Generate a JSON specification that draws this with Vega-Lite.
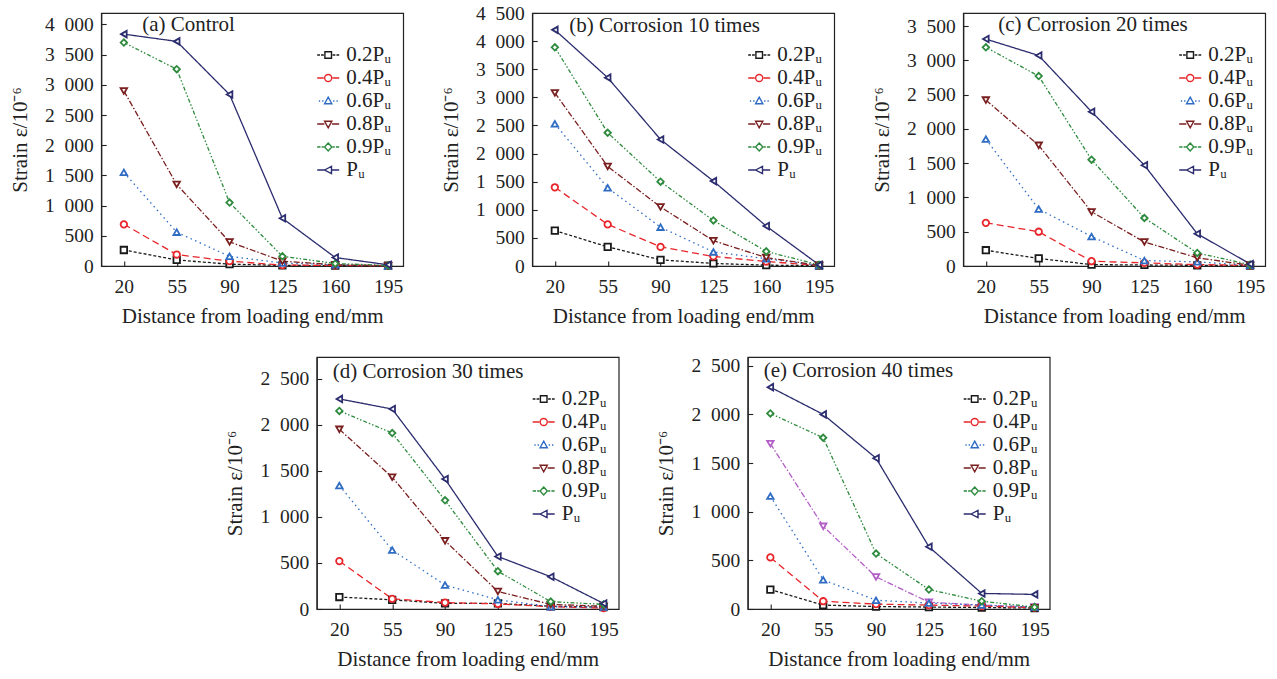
{
  "$schema": "https://vega.github.io/schema/vega-lite/v6.json",
  "background": "white",
  "padding": {"left": 8, "top": 2, "right": 5, "bottom": 5},
  "data": {"values": [
    {"p":"a","s":"0.2Pᵤ","x":20,"y":265},{"p":"a","s":"0.2Pᵤ","x":55,"y":100},{"p":"a","s":"0.2Pᵤ","x":90,"y":30},{"p":"a","s":"0.2Pᵤ","x":125,"y":10},{"p":"a","s":"0.2Pᵤ","x":160,"y":5},{"p":"a","s":"0.2Pᵤ","x":195,"y":5},
    {"p":"a","s":"0.4Pᵤ","x":20,"y":690},{"p":"a","s":"0.4Pᵤ","x":55,"y":190},{"p":"a","s":"0.4Pᵤ","x":90,"y":80},{"p":"a","s":"0.4Pᵤ","x":125,"y":15},{"p":"a","s":"0.4Pᵤ","x":160,"y":10},{"p":"a","s":"0.4Pᵤ","x":195,"y":5},
    {"p":"a","s":"0.6Pᵤ","x":20,"y":1550},{"p":"a","s":"0.6Pᵤ","x":55,"y":560},{"p":"a","s":"0.6Pᵤ","x":90,"y":160},{"p":"a","s":"0.6Pᵤ","x":125,"y":50},{"p":"a","s":"0.6Pᵤ","x":160,"y":20},{"p":"a","s":"0.6Pᵤ","x":195,"y":5},
    {"p":"a","s":"0.8Pᵤ","x":20,"y":2900},{"p":"a","s":"0.8Pᵤ","x":55,"y":1350},{"p":"a","s":"0.8Pᵤ","x":90,"y":400},{"p":"a","s":"0.8Pᵤ","x":125,"y":80},{"p":"a","s":"0.8Pᵤ","x":160,"y":20},{"p":"a","s":"0.8Pᵤ","x":195,"y":5},
    {"p":"a","s":"0.9Pᵤ","x":20,"y":3700},{"p":"a","s":"0.9Pᵤ","x":55,"y":3260},{"p":"a","s":"0.9Pᵤ","x":90,"y":1050},{"p":"a","s":"0.9Pᵤ","x":125,"y":160},{"p":"a","s":"0.9Pᵤ","x":160,"y":40},{"p":"a","s":"0.9Pᵤ","x":195,"y":10},
    {"p":"a","s":"Pᵤ","x":20,"y":3840},{"p":"a","s":"Pᵤ","x":55,"y":3720},{"p":"a","s":"Pᵤ","x":90,"y":2840},{"p":"a","s":"Pᵤ","x":125,"y":790},{"p":"a","s":"Pᵤ","x":160,"y":140},{"p":"a","s":"Pᵤ","x":195,"y":20},

    {"p":"b","s":"0.2Pᵤ","x":20,"y":630},{"p":"b","s":"0.2Pᵤ","x":55,"y":340},{"p":"b","s":"0.2Pᵤ","x":90,"y":110},{"p":"b","s":"0.2Pᵤ","x":125,"y":45},{"p":"b","s":"0.2Pᵤ","x":160,"y":15},{"p":"b","s":"0.2Pᵤ","x":195,"y":5},
    {"p":"b","s":"0.4Pᵤ","x":20,"y":1400},{"p":"b","s":"0.4Pᵤ","x":55,"y":740},{"p":"b","s":"0.4Pᵤ","x":90,"y":340},{"p":"b","s":"0.4Pᵤ","x":125,"y":170},{"p":"b","s":"0.4Pᵤ","x":160,"y":80},{"p":"b","s":"0.4Pᵤ","x":195,"y":10},
    {"p":"b","s":"0.6Pᵤ","x":20,"y":2530},{"p":"b","s":"0.6Pᵤ","x":55,"y":1390},{"p":"b","s":"0.6Pᵤ","x":90,"y":690},{"p":"b","s":"0.6Pᵤ","x":125,"y":250},{"p":"b","s":"0.6Pᵤ","x":160,"y":130},{"p":"b","s":"0.6Pᵤ","x":195,"y":10},
    {"p":"b","s":"0.8Pᵤ","x":20,"y":3080},{"p":"b","s":"0.8Pᵤ","x":55,"y":1770},{"p":"b","s":"0.8Pᵤ","x":90,"y":1050},{"p":"b","s":"0.8Pᵤ","x":125,"y":450},{"p":"b","s":"0.8Pᵤ","x":160,"y":150},{"p":"b","s":"0.8Pᵤ","x":195,"y":10},
    {"p":"b","s":"0.9Pᵤ","x":20,"y":3890},{"p":"b","s":"0.9Pᵤ","x":55,"y":2370},{"p":"b","s":"0.9Pᵤ","x":90,"y":1500},{"p":"b","s":"0.9Pᵤ","x":125,"y":810},{"p":"b","s":"0.9Pᵤ","x":160,"y":260},{"p":"b","s":"0.9Pᵤ","x":195,"y":20},
    {"p":"b","s":"Pᵤ","x":20,"y":4200},{"p":"b","s":"Pᵤ","x":55,"y":3350},{"p":"b","s":"Pᵤ","x":90,"y":2250},{"p":"b","s":"Pᵤ","x":125,"y":1510},{"p":"b","s":"Pᵤ","x":160,"y":710},{"p":"b","s":"Pᵤ","x":195,"y":20},

    {"p":"c","s":"0.2Pᵤ","x":20,"y":230},{"p":"c","s":"0.2Pᵤ","x":55,"y":110},{"p":"c","s":"0.2Pᵤ","x":90,"y":20},{"p":"c","s":"0.2Pᵤ","x":125,"y":15},{"p":"c","s":"0.2Pᵤ","x":160,"y":10},{"p":"c","s":"0.2Pᵤ","x":195,"y":5},
    {"p":"c","s":"0.4Pᵤ","x":20,"y":630},{"p":"c","s":"0.4Pᵤ","x":55,"y":500},{"p":"c","s":"0.4Pᵤ","x":90,"y":70},{"p":"c","s":"0.4Pᵤ","x":125,"y":45},{"p":"c","s":"0.4Pᵤ","x":160,"y":20},{"p":"c","s":"0.4Pᵤ","x":195,"y":10},
    {"p":"c","s":"0.6Pᵤ","x":20,"y":1850},{"p":"c","s":"0.6Pᵤ","x":55,"y":830},{"p":"c","s":"0.6Pᵤ","x":90,"y":430},{"p":"c","s":"0.6Pᵤ","x":125,"y":80},{"p":"c","s":"0.6Pᵤ","x":160,"y":60},{"p":"c","s":"0.6Pᵤ","x":195,"y":10},
    {"p":"c","s":"0.8Pᵤ","x":20,"y":2420},{"p":"c","s":"0.8Pᵤ","x":55,"y":1760},{"p":"c","s":"0.8Pᵤ","x":90,"y":790},{"p":"c","s":"0.8Pᵤ","x":125,"y":350},{"p":"c","s":"0.8Pᵤ","x":160,"y":120},{"p":"c","s":"0.8Pᵤ","x":195,"y":10},
    {"p":"c","s":"0.9Pᵤ","x":20,"y":3190},{"p":"c","s":"0.9Pᵤ","x":55,"y":2770},{"p":"c","s":"0.9Pᵤ","x":90,"y":1550},{"p":"c","s":"0.9Pᵤ","x":125,"y":700},{"p":"c","s":"0.9Pᵤ","x":160,"y":190},{"p":"c","s":"0.9Pᵤ","x":195,"y":20},
    {"p":"c","s":"Pᵤ","x":20,"y":3310},{"p":"c","s":"Pᵤ","x":55,"y":3070},{"p":"c","s":"Pᵤ","x":90,"y":2250},{"p":"c","s":"Pᵤ","x":125,"y":1470},{"p":"c","s":"Pᵤ","x":160,"y":470},{"p":"c","s":"Pᵤ","x":195,"y":30},

    {"p":"d","s":"0.2Pᵤ","x":20,"y":130},{"p":"d","s":"0.2Pᵤ","x":55,"y":100},{"p":"d","s":"0.2Pᵤ","x":90,"y":60},{"p":"d","s":"0.2Pᵤ","x":125,"y":60},{"p":"d","s":"0.2Pᵤ","x":160,"y":30},{"p":"d","s":"0.2Pᵤ","x":195,"y":20},
    {"p":"d","s":"0.4Pᵤ","x":20,"y":520},{"p":"d","s":"0.4Pᵤ","x":55,"y":110},{"p":"d","s":"0.4Pᵤ","x":90,"y":70},{"p":"d","s":"0.4Pᵤ","x":125,"y":55},{"p":"d","s":"0.4Pᵤ","x":160,"y":25},{"p":"d","s":"0.4Pᵤ","x":195,"y":10},
    {"p":"d","s":"0.6Pᵤ","x":20,"y":1340},{"p":"d","s":"0.6Pᵤ","x":55,"y":640},{"p":"d","s":"0.6Pᵤ","x":90,"y":260},{"p":"d","s":"0.6Pᵤ","x":125,"y":100},{"p":"d","s":"0.6Pᵤ","x":160,"y":25},{"p":"d","s":"0.6Pᵤ","x":195,"y":20},
    {"p":"d","s":"0.8Pᵤ","x":20,"y":1950},{"p":"d","s":"0.8Pᵤ","x":55,"y":1430},{"p":"d","s":"0.8Pᵤ","x":90,"y":740},{"p":"d","s":"0.8Pᵤ","x":125,"y":190},{"p":"d","s":"0.8Pᵤ","x":160,"y":50},{"p":"d","s":"0.8Pᵤ","x":195,"y":30},
    {"p":"d","s":"0.9Pᵤ","x":20,"y":2150},{"p":"d","s":"0.9Pᵤ","x":55,"y":1910},{"p":"d","s":"0.9Pᵤ","x":90,"y":1180},{"p":"d","s":"0.9Pᵤ","x":125,"y":410},{"p":"d","s":"0.9Pᵤ","x":160,"y":80},{"p":"d","s":"0.9Pᵤ","x":195,"y":50},
    {"p":"d","s":"Pᵤ","x":20,"y":2280},{"p":"d","s":"Pᵤ","x":55,"y":2170},{"p":"d","s":"Pᵤ","x":90,"y":1410},{"p":"d","s":"Pᵤ","x":125,"y":570},{"p":"d","s":"Pᵤ","x":160,"y":350},{"p":"d","s":"Pᵤ","x":195,"y":60},

    {"p":"e","s":"0.2Pᵤ","x":20,"y":200},{"p":"e","s":"0.2Pᵤ","x":55,"y":40},{"p":"e","s":"0.2Pᵤ","x":90,"y":25},{"p":"e","s":"0.2Pᵤ","x":125,"y":20},{"p":"e","s":"0.2Pᵤ","x":160,"y":15},{"p":"e","s":"0.2Pᵤ","x":195,"y":10},
    {"p":"e","s":"0.4Pᵤ","x":20,"y":530},{"p":"e","s":"0.4Pᵤ","x":55,"y":80},{"p":"e","s":"0.4Pᵤ","x":90,"y":50},{"p":"e","s":"0.4Pᵤ","x":125,"y":40},{"p":"e","s":"0.4Pᵤ","x":160,"y":30},{"p":"e","s":"0.4Pᵤ","x":195,"y":15},
    {"p":"e","s":"0.6Pᵤ","x":20,"y":1160},{"p":"e","s":"0.6Pᵤ","x":55,"y":300},{"p":"e","s":"0.6Pᵤ","x":90,"y":90},{"p":"e","s":"0.6Pᵤ","x":125,"y":60},{"p":"e","s":"0.6Pᵤ","x":160,"y":40},{"p":"e","s":"0.6Pᵤ","x":195,"y":20},
    {"p":"e","s":"0.8Pᵤ","x":20,"y":1700},{"p":"e","s":"0.8Pᵤ","x":55,"y":850},{"p":"e","s":"0.8Pᵤ","x":90,"y":330},{"p":"e","s":"0.8Pᵤ","x":125,"y":70},{"p":"e","s":"0.8Pᵤ","x":160,"y":40},{"p":"e","s":"0.8Pᵤ","x":195,"y":20},
    {"p":"e","s":"0.9Pᵤ","x":20,"y":2010},{"p":"e","s":"0.9Pᵤ","x":55,"y":1760},{"p":"e","s":"0.9Pᵤ","x":90,"y":570},{"p":"e","s":"0.9Pᵤ","x":125,"y":200},{"p":"e","s":"0.9Pᵤ","x":160,"y":80},{"p":"e","s":"0.9Pᵤ","x":195,"y":20},
    {"p":"e","s":"Pᵤ","x":20,"y":2280},{"p":"e","s":"Pᵤ","x":55,"y":2000},{"p":"e","s":"Pᵤ","x":90,"y":1550},{"p":"e","s":"Pᵤ","x":125,"y":640},{"p":"e","s":"Pᵤ","x":160,"y":160},{"p":"e","s":"Pᵤ","x":195,"y":150}
  ]},
  "center": true,
  "spacing": 27,
  "resolve": {"scale": {"color": "independent", "shape": "independent", "strokeDash": "independent"}, "legend": {"color": "independent"}},
  "vconcat": [
    {
      "hconcat": [
        {
          "width": 302, "height": 253,
          "title": {"text": "(a) Control", "dx": 41, "offset": -22},
          "transform": [{"filter": "datum.p === 'a'"}],
          "encoding": {
            "x": {"field": "x", "type": "quantitative", "scale": {"domain": [5, 205], "nice": false, "zero": false}, "axis": {"values": [20, 55, 90, 125, 160, 195], "title": "Distance from loading end/mm"}},
            "y": {"field": "y", "type": "quantitative", "scale": {"domain": [0, 4190], "nice": false}, "axis": {"values": [0, 500, 1000, 1500, 2000, 2500, 3000, 3500, 4000], "title": "Strain ε/10⁻⁶"}}
          },
          "layer": [
            {"mark": {"type": "line", "strokeWidth": 1.3},
             "encoding": {
               "color": {"field": "s", "type": "nominal", "scale": {"domain": ["0.2Pᵤ","0.4Pᵤ","0.6Pᵤ","0.8Pᵤ","0.9Pᵤ","Pᵤ"], "range": ["#1a1a1a","#e8252a","#2f6cc4","#7a1f1f","#2e8b3e","#2b2d6e"]},
                 "legend": {"title": null, "encode": {"symbols": {"update": {"fill": {"value": "white"}, "shape": {"signal": "datum.value === '0.2Pᵤ' ? 'M-1,0h0.25M-0.65,0h0.25M0.4,0h0.25M0.75,0h0.25M-0.3,-0.3h0.6v0.6h-0.6z' : datum.value === '0.4Pᵤ' ? 'M-1,0h0.6M0.4,0h0.6M-0.32,0a0.32,0.32 0 1,0 0.64,0a0.32,0.32 0 1,0 -0.64,0' : datum.value === '0.6Pᵤ' ? 'M-0.85,0h0.12M-0.55,0h0.12M0.45,0h0.12M0.75,0h0.12M0,-0.35L0.33,0.25L-0.33,0.25z' : datum.value === '0.8Pᵤ' ? 'M-1,0h0.65M0.35,0h0.65M-0.33,-0.25L0.33,-0.25L0,0.35z' : datum.value === '0.9Pᵤ' ? 'M-1,0h0.3M-0.6,0h0.2M0.4,0h0.2M0.7,0h0.3M0,-0.36L0.33,0L0,0.36L-0.33,0z' : 'M-1,0h0.7M0.3,0h0.7M-0.33,0L0.3,-0.33L0.3,0.33z'"}}}}}},
               "strokeDash": {"field": "s", "type": "nominal", "scale": {"domain": ["0.4Pᵤ","0.2Pᵤ","0.6Pᵤ","0.8Pᵤ","0.9Pᵤ","Pᵤ"], "range": [[7,4],[3,2],[1.5,3.5],[6,2,1.5,2],[4,2,1.5,2,1.5,2],[1,0]]}, "legend": null}
             }},
            {"mark": {"type": "point", "filled": false, "fill": "white", "size": 42, "strokeWidth": 1.8, "opacity": 1},
             "encoding": {
               "color": {"field": "s", "type": "nominal", "legend": null},
               "shape": {"field": "s", "type": "nominal", "scale": {"domain": ["Pᵤ","0.9Pᵤ","0.8Pᵤ","0.6Pᵤ","0.4Pᵤ","0.2Pᵤ"], "range": ["triangle-left","diamond","triangle-down","triangle-up","circle","square"]}, "legend": null}
             }}
          ]
        },
        {
          "width": 302, "height": 253,
          "title": {"text": "(b) Corrosion 10 times", "dx": 37, "offset": -33},
          "transform": [{"filter": "datum.p === 'b'"}],
          "encoding": {
            "x": {"field": "x", "type": "quantitative", "scale": {"domain": [5, 205], "nice": false, "zero": false}, "axis": {"values": [20, 55, 90, 125, 160, 195], "title": "Distance from loading end/mm"}},
            "y": {"field": "y", "type": "quantitative", "scale": {"domain": [0, 4500], "nice": false}, "axis": {"values": [0, 500, 1000, 1500, 2000, 2500, 3000, 3500, 4000, 4500], "title": "Strain ε/10⁻⁶"}}
          },
          "layer": [
            {"mark": {"type": "line", "strokeWidth": 1.3},
             "encoding": {
               "color": {"field": "s", "type": "nominal", "scale": {"domain": ["0.2Pᵤ","0.4Pᵤ","0.6Pᵤ","0.8Pᵤ","0.9Pᵤ","Pᵤ"], "range": ["#1a1a1a","#e8252a","#2f6cc4","#7a1f1f","#2e8b3e","#2b2d6e"]},
                 "legend": {"title": null, "encode": {"symbols": {"update": {"fill": {"value": "white"}, "shape": {"signal": "datum.value === '0.2Pᵤ' ? 'M-1,0h0.25M-0.65,0h0.25M0.4,0h0.25M0.75,0h0.25M-0.3,-0.3h0.6v0.6h-0.6z' : datum.value === '0.4Pᵤ' ? 'M-1,0h0.6M0.4,0h0.6M-0.32,0a0.32,0.32 0 1,0 0.64,0a0.32,0.32 0 1,0 -0.64,0' : datum.value === '0.6Pᵤ' ? 'M-0.85,0h0.12M-0.55,0h0.12M0.45,0h0.12M0.75,0h0.12M0,-0.35L0.33,0.25L-0.33,0.25z' : datum.value === '0.8Pᵤ' ? 'M-1,0h0.65M0.35,0h0.65M-0.33,-0.25L0.33,-0.25L0,0.35z' : datum.value === '0.9Pᵤ' ? 'M-1,0h0.3M-0.6,0h0.2M0.4,0h0.2M0.7,0h0.3M0,-0.36L0.33,0L0,0.36L-0.33,0z' : 'M-1,0h0.7M0.3,0h0.7M-0.33,0L0.3,-0.33L0.3,0.33z'"}}}}}},
               "strokeDash": {"field": "s", "type": "nominal", "scale": {"domain": ["0.4Pᵤ","0.2Pᵤ","0.6Pᵤ","0.8Pᵤ","0.9Pᵤ","Pᵤ"], "range": [[7,4],[3,2],[1.5,3.5],[6,2,1.5,2],[4,2,1.5,2,1.5,2],[1,0]]}, "legend": null}
             }},
            {"mark": {"type": "point", "filled": false, "fill": "white", "size": 42, "strokeWidth": 1.8, "opacity": 1},
             "encoding": {
               "color": {"field": "s", "type": "nominal", "legend": null},
               "shape": {"field": "s", "type": "nominal", "scale": {"domain": ["Pᵤ","0.9Pᵤ","0.8Pᵤ","0.6Pᵤ","0.4Pᵤ","0.2Pᵤ"], "range": ["triangle-left","diamond","triangle-down","triangle-up","circle","square"]}, "legend": null}
             }}
          ]
        },
        {
          "width": 302, "height": 253,
          "title": {"text": "(c) Corrosion 20 times", "dx": 35, "offset": -22},
          "transform": [{"filter": "datum.p === 'c'"}],
          "encoding": {
            "x": {"field": "x", "type": "quantitative", "scale": {"domain": [5, 205], "nice": false, "zero": false}, "axis": {"values": [20, 55, 90, 125, 160, 195], "title": "Distance from loading end/mm"}},
            "y": {"field": "y", "type": "quantitative", "scale": {"domain": [0, 3690], "nice": false}, "axis": {"values": [0, 500, 1000, 1500, 2000, 2500, 3000, 3500], "title": "Strain ε/10⁻⁶"}}
          },
          "layer": [
            {"mark": {"type": "line", "strokeWidth": 1.3},
             "encoding": {
               "color": {"field": "s", "type": "nominal", "scale": {"domain": ["0.2Pᵤ","0.4Pᵤ","0.6Pᵤ","0.8Pᵤ","0.9Pᵤ","Pᵤ"], "range": ["#1a1a1a","#e8252a","#2f6cc4","#7a1f1f","#2e8b3e","#2b2d6e"]},
                 "legend": {"title": null, "encode": {"symbols": {"update": {"fill": {"value": "white"}, "shape": {"signal": "datum.value === '0.2Pᵤ' ? 'M-1,0h0.25M-0.65,0h0.25M0.4,0h0.25M0.75,0h0.25M-0.3,-0.3h0.6v0.6h-0.6z' : datum.value === '0.4Pᵤ' ? 'M-1,0h0.6M0.4,0h0.6M-0.32,0a0.32,0.32 0 1,0 0.64,0a0.32,0.32 0 1,0 -0.64,0' : datum.value === '0.6Pᵤ' ? 'M-0.85,0h0.12M-0.55,0h0.12M0.45,0h0.12M0.75,0h0.12M0,-0.35L0.33,0.25L-0.33,0.25z' : datum.value === '0.8Pᵤ' ? 'M-1,0h0.65M0.35,0h0.65M-0.33,-0.25L0.33,-0.25L0,0.35z' : datum.value === '0.9Pᵤ' ? 'M-1,0h0.3M-0.6,0h0.2M0.4,0h0.2M0.7,0h0.3M0,-0.36L0.33,0L0,0.36L-0.33,0z' : 'M-1,0h0.7M0.3,0h0.7M-0.33,0L0.3,-0.33L0.3,0.33z'"}}}}}},
               "strokeDash": {"field": "s", "type": "nominal", "scale": {"domain": ["0.4Pᵤ","0.2Pᵤ","0.6Pᵤ","0.8Pᵤ","0.9Pᵤ","Pᵤ"], "range": [[7,4],[3,2],[1.5,3.5],[6,2,1.5,2],[4,2,1.5,2,1.5,2],[1,0]]}, "legend": null}
             }},
            {"mark": {"type": "point", "filled": false, "fill": "white", "size": 42, "strokeWidth": 1.8, "opacity": 1},
             "encoding": {
               "color": {"field": "s", "type": "nominal", "legend": null},
               "shape": {"field": "s", "type": "nominal", "scale": {"domain": ["Pᵤ","0.9Pᵤ","0.8Pᵤ","0.6Pᵤ","0.4Pᵤ","0.2Pᵤ"], "range": ["triangle-left","diamond","triangle-down","triangle-up","circle","square"]}, "legend": null}
             }}
          ]
        }
      ],
      "spacing": 35,
      "resolve": {"scale": {"color": "independent", "shape": "independent", "strokeDash": "independent"}, "legend": {"color": "independent"}}
    },
    {
      "hconcat": [
        {
          "width": 302, "height": 252,
          "title": {"text": "(d) Corrosion 30 times", "dx": 16, "offset": -25},
          "transform": [{"filter": "datum.p === 'd'"}],
          "encoding": {
            "x": {"field": "x", "type": "quantitative", "scale": {"domain": [5, 205], "nice": false, "zero": false}, "axis": {"values": [20, 55, 90, 125, 160, 195], "title": "Distance from loading end/mm"}},
            "y": {"field": "y", "type": "quantitative", "scale": {"domain": [0, 2735], "nice": false}, "axis": {"values": [0, 500, 1000, 1500, 2000, 2500], "title": "Strain ε/10⁻⁶"}}
          },
          "layer": [
            {"mark": {"type": "line", "strokeWidth": 1.3},
             "encoding": {
               "color": {"field": "s", "type": "nominal", "scale": {"domain": ["0.2Pᵤ","0.4Pᵤ","0.6Pᵤ","0.8Pᵤ","0.9Pᵤ","Pᵤ"], "range": ["#1a1a1a","#e8252a","#2f6cc4","#7a1f1f","#2e8b3e","#2b2d6e"]},
                 "legend": {"title": null, "encode": {"symbols": {"update": {"fill": {"value": "white"}, "shape": {"signal": "datum.value === '0.2Pᵤ' ? 'M-1,0h0.25M-0.65,0h0.25M0.4,0h0.25M0.75,0h0.25M-0.3,-0.3h0.6v0.6h-0.6z' : datum.value === '0.4Pᵤ' ? 'M-1,0h0.6M0.4,0h0.6M-0.32,0a0.32,0.32 0 1,0 0.64,0a0.32,0.32 0 1,0 -0.64,0' : datum.value === '0.6Pᵤ' ? 'M-0.85,0h0.12M-0.55,0h0.12M0.45,0h0.12M0.75,0h0.12M0,-0.35L0.33,0.25L-0.33,0.25z' : datum.value === '0.8Pᵤ' ? 'M-1,0h0.65M0.35,0h0.65M-0.33,-0.25L0.33,-0.25L0,0.35z' : datum.value === '0.9Pᵤ' ? 'M-1,0h0.3M-0.6,0h0.2M0.4,0h0.2M0.7,0h0.3M0,-0.36L0.33,0L0,0.36L-0.33,0z' : 'M-1,0h0.7M0.3,0h0.7M-0.33,0L0.3,-0.33L0.3,0.33z'"}}}}}},
               "strokeDash": {"field": "s", "type": "nominal", "scale": {"domain": ["0.4Pᵤ","0.2Pᵤ","0.6Pᵤ","0.8Pᵤ","0.9Pᵤ","Pᵤ"], "range": [[7,4],[3,2],[1.5,3.5],[6,2,1.5,2],[4,2,1.5,2,1.5,2],[1,0]]}, "legend": null}
             }},
            {"mark": {"type": "point", "filled": false, "fill": "white", "size": 42, "strokeWidth": 1.8, "opacity": 1},
             "encoding": {
               "color": {"field": "s", "type": "nominal", "legend": null},
               "shape": {"field": "s", "type": "nominal", "scale": {"domain": ["Pᵤ","0.9Pᵤ","0.8Pᵤ","0.6Pᵤ","0.4Pᵤ","0.2Pᵤ"], "range": ["triangle-left","diamond","triangle-down","triangle-up","circle","square"]}, "legend": null}
             }}
          ]
        },
        {
          "width": 302, "height": 252,
          "title": {"text": "(e) Corrosion 40 times", "dx": 16, "offset": -25},
          "transform": [{"filter": "datum.p === 'e'"}],
          "encoding": {
            "x": {"field": "x", "type": "quantitative", "scale": {"domain": [5, 205], "nice": false, "zero": false}, "axis": {"values": [20, 55, 90, 125, 160, 195], "title": "Distance from loading end/mm"}},
            "y": {"field": "y", "type": "quantitative", "scale": {"domain": [0, 2590], "nice": false}, "axis": {"values": [0, 500, 1000, 1500, 2000, 2500], "title": "Strain ε/10⁻⁶"}}
          },
          "layer": [
            {"transform": [{"filter": "datum.s === '0.8Pᵤ'"}],
             "mark": {"type": "line", "strokeWidth": 1.3, "color": "#b35ec6", "strokeDash": [6,2,1.5,2]},
             "encoding": {}},
            {"transform": [{"filter": "datum.s === '0.8Pᵤ'"}],
             "mark": {"type": "point", "shape": "triangle-down", "filled": false, "fill": "white", "color": "#b35ec6", "size": 42, "strokeWidth": 1.8, "opacity": 1},
             "encoding": {}},
            {"transform": [{"filter": "datum.s !== '0.8Pᵤ'"}],
             "mark": {"type": "line", "strokeWidth": 1.3},
             "encoding": {
               "color": {"field": "s", "type": "nominal", "scale": {"domain": ["0.2Pᵤ","0.4Pᵤ","0.6Pᵤ","0.8Pᵤ","0.9Pᵤ","Pᵤ"], "range": ["#1a1a1a","#e8252a","#2f6cc4","#7a1f1f","#2e8b3e","#2b2d6e"]},
                 "legend": {"title": null, "encode": {"symbols": {"update": {"fill": {"value": "white"}, "shape": {"signal": "datum.value === '0.2Pᵤ' ? 'M-1,0h0.25M-0.65,0h0.25M0.4,0h0.25M0.75,0h0.25M-0.3,-0.3h0.6v0.6h-0.6z' : datum.value === '0.4Pᵤ' ? 'M-1,0h0.6M0.4,0h0.6M-0.32,0a0.32,0.32 0 1,0 0.64,0a0.32,0.32 0 1,0 -0.64,0' : datum.value === '0.6Pᵤ' ? 'M-0.85,0h0.12M-0.55,0h0.12M0.45,0h0.12M0.75,0h0.12M0,-0.35L0.33,0.25L-0.33,0.25z' : datum.value === '0.8Pᵤ' ? 'M-1,0h0.65M0.35,0h0.65M-0.33,-0.25L0.33,-0.25L0,0.35z' : datum.value === '0.9Pᵤ' ? 'M-1,0h0.3M-0.6,0h0.2M0.4,0h0.2M0.7,0h0.3M0,-0.36L0.33,0L0,0.36L-0.33,0z' : 'M-1,0h0.7M0.3,0h0.7M-0.33,0L0.3,-0.33L0.3,0.33z'"}}}}}},
               "strokeDash": {"field": "s", "type": "nominal", "scale": {"domain": ["0.4Pᵤ","0.2Pᵤ","0.6Pᵤ","0.8Pᵤ","0.9Pᵤ","Pᵤ"], "range": [[7,4],[3,2],[1.5,3.5],[6,2,1.5,2],[4,2,1.5,2,1.5,2],[1,0]]}, "legend": null}
             }},
            {"transform": [{"filter": "datum.s !== '0.8Pᵤ'"}],
             "mark": {"type": "point", "filled": false, "fill": "white", "size": 42, "strokeWidth": 1.8, "opacity": 1},
             "encoding": {
               "color": {"field": "s", "type": "nominal", "legend": null},
               "shape": {"field": "s", "type": "nominal", "scale": {"domain": ["Pᵤ","0.9Pᵤ","0.8Pᵤ","0.6Pᵤ","0.4Pᵤ","0.2Pᵤ"], "range": ["triangle-left","diamond","triangle-down","triangle-up","circle","square"]}, "legend": null}
             }}
          ]
        }
      ],
      "spacing": 35,
      "resolve": {"scale": {"color": "independent", "shape": "independent", "strokeDash": "independent"}, "legend": {"color": "independent"}}
    }
  ],
  "config": {
    "font": "Liberation Serif",
    "view": {"stroke": "#222", "strokeWidth": 1.2},
    "axis": {
      "labelFont": "Liberation Serif", "labelFontSize": 19.5, "labelColor": "#222",
      "titleFont": "Liberation Serif", "titleFontSize": 21, "titleFontWeight": "normal", "titleColor": "#222",
      "domainColor": "#222", "domainWidth": 1.2, "tickColor": "#222", "tickSize": -5, "tickWidth": 1.1,
      "grid": false, "labelPadding": 16, "labelAngle": 0
    },
    "axisY": {"labelExpr": "replace(format(datum.value, ','), ',', '\u2002')", "titlePadding": 14, "labelPadding": 13},
    "axisX": {"titlePadding": 10},
    "legend": {
      "orient": "none", "legendX": 215, "legendY": 30, "padding": 0,
      "labelFont": "Liberation Serif", "labelFontSize": 21, "labelColor": "#222",
      "symbolSize": 484, "symbolStrokeWidth": 1.4, "labelOffset": 6, "rowPadding": 1, "symbolType": "stroke"
    },
    "title": {"font": "Liberation Serif", "fontSize": 21, "fontWeight": "normal", "color": "#222", "anchor": "start", "frame": "group", "baseline": "alphabetic"}
  }
}
